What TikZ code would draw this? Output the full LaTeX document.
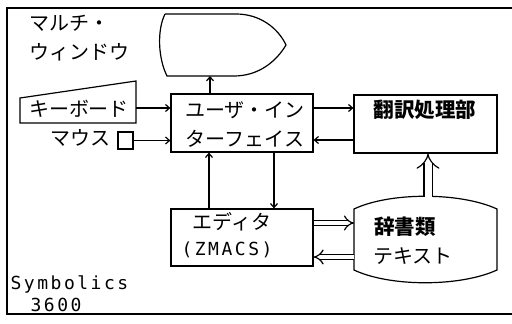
\documentclass[tikz,border=0pt]{standalone}
\usepackage{fontspec}
\usetikzlibrary{arrows.meta}
\newfontfamily\jp{Noto Sans CJK JP}
\newfontfamily\mono{DejaVu Sans Mono}[LetterSpace=14]
\begin{document}
\begin{tikzpicture}[x=1pt,y=-1pt,line width=1.2pt,
  jptext/.style={inner sep=0pt,font=\jp\fontsize{20}{20}\selectfont},
  jpbold/.style={inner sep=0pt,font=\jp\bfseries\fontsize{20.5}{20.5}\selectfont},
  monotext/.style={inner sep=0pt,font=\mono\fontsize{18}{18}\selectfont},
  arr/.style={-{Straight Barb[length=4pt,width=7pt]}},
  dbl/.style={double,double distance=#1,-{Implies}},
  box/.style={draw,rectangle,inner sep=0pt}]
\useasboundingbox (0,0) rectangle (512,324);
% frame
\draw (512,8) -- (7,8) -- (7,314) -- (512,314);
% multi-window shape
\draw (165,14) -- (236,14) .. controls (260,14) and (278,28) .. (286,45)
  .. controls (276,62) and (258,76) .. (234,76) -- (167,76)
  .. controls (158,58) and (157,30) .. (165,14);
\coordinate (winb) at (210,76);
\node[jptext,anchor=west] (lblm1) at (29,23) {マルチ・};
\node[jptext,anchor=west] (lblm2) at (29,52) {ウィンドウ};
% keyboard
\draw (20,98) -- (136,81) -- (136,123) -- (20,123) -- cycle;
\node[jptext] (kb) at (79,109) {キーボード};
\coordinate (kbr) at (136,108);
% mouse
\node[jptext] (mouse) at (80,138) {マウス};
\node[box,minimum width=15pt,minimum height=17pt] (msq) at (125.5,140.5) {};
% user interface
\node[box,minimum width=142pt,minimum height=58pt] (ui) at (242,123) {};
\node[jptext] (ui1) at (245,110) {ユーザ・イン};
\node[jptext] (ui2) at (245,139) {ターフェイス};
% translation
\node[box,minimum width=143pt,minimum height=58pt] (tr) at (425.5,124) {};
\node[jpbold] (trt) at (425,110) {翻訳処理部};
% editor
\node[box,minimum width=142pt,minimum height=57pt] (ed) at (242,237.5) {};
\node[jptext] (ed1) at (232,222) {エディタ};
\node[monotext] (ed2) at (227,250) {(ZMACS)};
% dictionary
\draw (354,209) .. controls (390,192) and (460,192) .. (497,209) -- (497,270)
  .. controls (460,287) and (390,287) .. (354,270) -- cycle;
\coordinate (dictl) at (354,240);
\coordinate (dictt) at (428,197);
\node[jpbold] (dc1) at (405,227) {辞書類};
\node[jptext] (dc2) at (413,256) {テキスト};
% Symbolics
\node[monotext,anchor=west] (sym) at (10,284) {Symbolics};
\node[monotext,anchor=west] (num) at (30,305) {3600};
% connectors
\draw[arr] (ui.north -| winb) -- (winb);
\draw[arr] (kbr) -- (kbr -| ui.west);
\draw[arr] (msq.east) -- (msq.east -| ui.west);
\draw[arr] ([yshift=15pt]ui.east) -- ([yshift=15pt]ui.east -| tr.west);
\draw[arr] ([yshift=-17pt]ui.east -| tr.west) -- ([yshift=-17pt]ui.east);
\draw[arr] (ed.north -| 209,0) -- (ui.south -| 209,0);
\draw[arr] (ui.south -| 274,0) -- (ed.north -| 274,0);
\draw[dbl=4pt] (ed.east |- 0,223) -- (dictl |- 0,223);
\draw[dbl=4pt] (dictl |- 0,257) -- (ed.east |- 0,257);
\draw[dbl=7pt] (dictt) -- (dictt |- tr.south);
\end{tikzpicture}
\end{document}
